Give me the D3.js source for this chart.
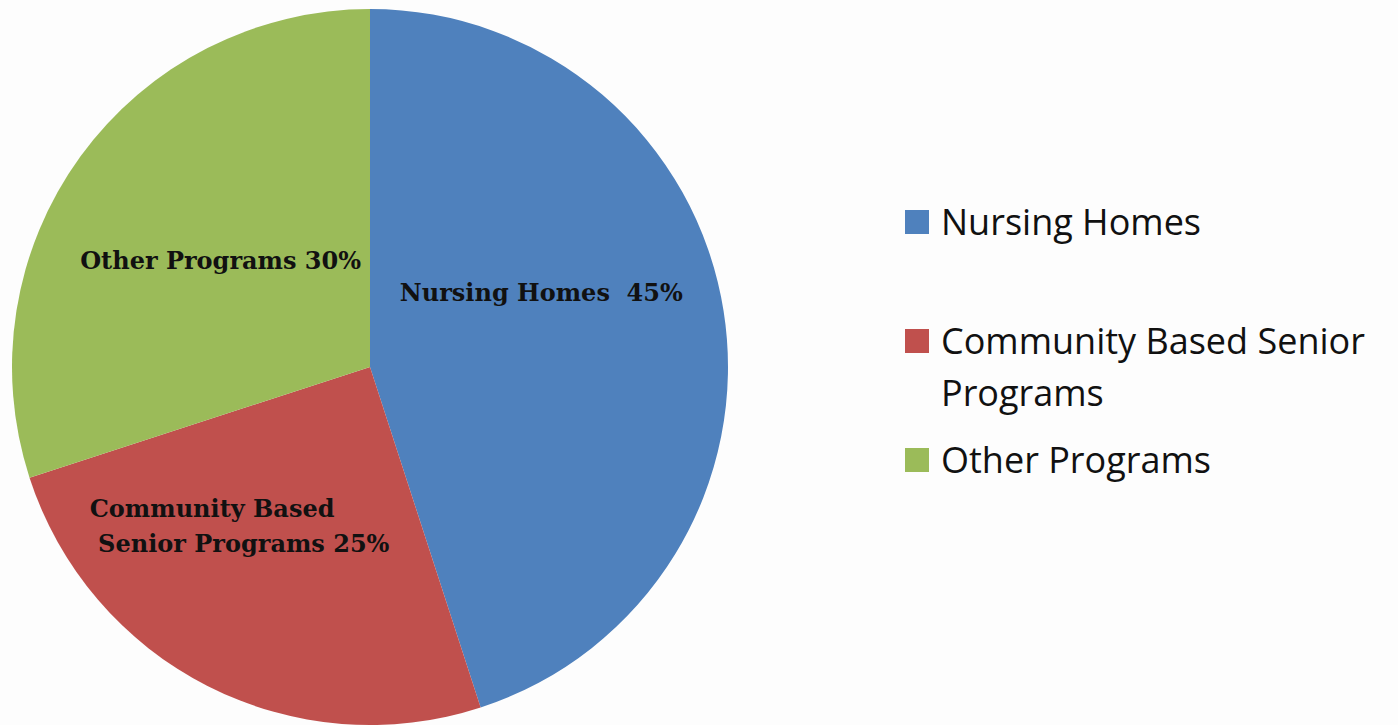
<!DOCTYPE html>
<html>
<head>
<meta charset="utf-8">
<script src="https://cdn.jsdelivr.net/npm/d3@7"></script>
<style>
  body { margin: 0; background: #fdfdfd; }
  svg { display: block; }
</style>
</head>
<body>
<div id="chart"></div>
<script>
// data
var categories = ["Nursing Homes", "Community Based Senior Programs", "Other Programs"];
var values = [45, 25, 30];
var colors = ["#4f81bd", "#c0504d", "#9bbb59"];
// slice labels, one entry per line
var sliceLabels = [
	["Nursing Homes  45%"],
	["Community Based", " Senior Programs 25%"],
	["Other Programs 30%"]
];
// legend text, wrapped as in the picture
var legendLines = [
	["Nursing Homes"],
	["Community Based Senior", "Programs"],
	["Other Programs"]
];

var width = 1398, height = 725;
var cx = 370, cy = 367, radius = 358;

var svg = d3.select("#chart").append("svg")
	.attr("width", width).attr("height", height);

svg.append("rect").attr("width", width).attr("height", height).attr("fill", "#fdfdfd");

var table = categories.map(function(c, i){ return { name: c, value: values[i], idx: i }; });

var pie = d3.pie().sort(null).value(function(d){ return d.value; });
var arc = d3.arc().innerRadius(0).outerRadius(radius);

var g = svg.append("g").attr("transform", "translate(" + cx + "," + cy + ")");

var slices = pie(table);

g.selectAll("path.slice")
	.data(slices)
	.enter().append("path")
	.attr("class", "slice")
	.attr("d", arc)
	.attr("fill", function(d){ return colors[d.data.idx]; });

// label offsets from the centroid (x start, first baseline)
var labelShift = [[-147, -38], [-199, -9], [-145, 7]];

g.selectAll("text.lbl")
	.data(slices)
	.enter().append("text")
	.attr("class", "lbl")
	.attr("font-family", "'DejaVu Serif', serif")
	.attr("font-weight", "bold")
	.attr("font-size", 24)
	.attr("fill", "#111")
	.attr("xml:space", "preserve")
	.style("white-space", "pre")
	.each(function(d){
		var c = arc.centroid(d);
		var s = labelShift[d.data.idx];
		var t = d3.select(this);
		sliceLabels[d.data.idx].forEach(function(line, k){
			t.append("tspan")
				.attr("x", c[0] + s[0])
				.attr("y", c[1] + s[1] + k * 35)
				.text(line);
		});
	});

// legend
var legendY = [210, 329, 448];
var legend = svg.append("g").attr("transform", "translate(905,0)");

var items = legend.selectAll("g.item")
	.data(table)
	.enter().append("g")
	.attr("class", "item")
	.attr("transform", function(d){ return "translate(0," + legendY[d.idx] + ")"; });

items.append("rect")
	.attr("width", 24).attr("height", 24)
	.attr("fill", function(d){ return colors[d.idx]; });

items.append("text")
	.attr("font-family", "'Open Sans', sans-serif")
	.attr("font-size", 36)
	.attr("fill", "#111")
	.each(function(d){
		var t = d3.select(this);
		legendLines[d.idx].forEach(function(line, k){
			t.append("tspan")
				.attr("x", 36)
				.attr("y", 25 + k * 52)
				.text(line);
		});
	});
</script>
</body>
</html>
